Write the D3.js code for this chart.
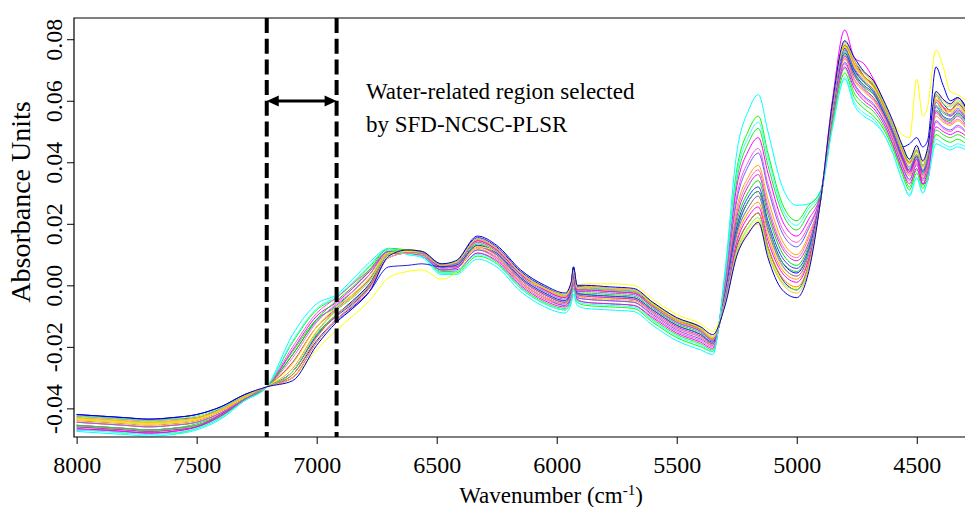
<!DOCTYPE html>
<html>
<head>
  <title>NIR spectra - water region</title>
  <meta charset="utf-8">
  <script src="https://cdn.jsdelivr.net/npm/d3@7/dist/d3.min.js"></script>
  <style type="text/css">
    body {
      margin: 0;
      background: #fff;
    }
    svg {
      display: block;
    }
    svg text {
      font-family: "Liberation Serif", "Times New Roman", serif;
    }
    .spec {
      fill: none;
      stroke-width: 1;
    }
  </style>
</head>
<body>
  <svg id="chart" width="965" height="507"></svg>
  <script type="text/javascript">

  // wavenumber grid (cm-1) the spectra were read at
  const wavenumbers = [8000,7900,7800,7700,7600,7500,7400,7300,7208,7100,7000,6917,6850,6780,6700,6620,6560,6480,6420,6330,
    6250,6150,6050,5965,5940,5930,5915,5880,5780,5680,5600,5500,5400,5350,5300,5250,5200,5160,5120,5060,
    5000,4950,4900,4850,4800,4760,4720,4680,4640,4600,4560,4530,4500,4475,4455,4420,4390,4360,4330,4295];

  // absorbance of each sample, in units of 0.001
  const spectra = [
    [-47.5,-48,-48.5,-49,-48.5,-47,-43.5,-37.5,-33,-16,-6,-3,2,7.5,12,10,9,3.5,3.5,8.5,6,-2,-7,-9,-6,-3,-6.5,-7.5,-8,-8.5,-13,-18,-21,-22.5,4,43,57,62,50,32,26,26.5,31,52,67,58.5,55,53,49.5,43,34,29,35,30,34,46,45,44,45,44],
    [-47,-47,-48,-48,-48,-46.5,-43,-37,-33,-18.5,-8,-4,0.5,6,12,10.5,9.5,4,4,9.5,7,-1,-6,-8,-5,-1.5,-5.5,-6.5,-7,-7.5,-12,-17,-20,-21.5,2,37.5,50.5,55,43,26.5,21,26,30.5,53,69,61,57.5,55,51,44.5,36,31,36.5,31.5,35.5,49,47.5,46.5,47.5,46],
    [-45.5,-46,-46.5,-47,-46.5,-45,-42,-37,-33,-21.5,-11,-7,-2,3.5,11.5,10.5,9.5,4.5,4.5,10.5,7.5,-0.5,-5.5,-7.5,-4.5,-1,-5,-5.5,-6,-6.5,-11,-16,-19,-21,1,34,46.5,51,39,23.5,18,23.5,30,54,70.5,62.5,59,56.5,52,45.5,37,32,37.5,32.5,36.5,50.5,49,48,49,47.5],
    [-47,-47,-47.5,-48,-47.5,-46,-42.5,-37,-33,-21,-10,-5.5,-1,4.5,11,10.5,9.5,5,5,10.5,8,0,-5,-7,-4,0,-4.5,-5.5,-6,-6.5,-10.5,-15.5,-18.5,-20.5,0.5,32,44,48,36.5,21,16,21.5,30,55,71,64,60,57.5,53,46,37.5,33,38,33,37,51.5,50,49,50,48.5],
    [-44.5,-45,-45.5,-46,-45.5,-44.5,-41.5,-36.5,-33,-20,-9,-4,0.5,5,11,10.5,10,5,5.5,11.5,8.5,0.5,-4.5,-6.5,-3.5,0.5,-4,-4.5,-5,-5.5,-10,-15,-18,-20,-0.5,29,40.5,44.5,33,18.5,14,19.5,29.5,55,72,65,61,58.5,54,47,38.5,34,39,34,38,53,51,50,51.5,49.5],
    [-45.5,-46,-46.5,-47,-46.5,-45.5,-42,-37,-33,-22.5,-11.5,-6.5,-2,3.5,11,11,10,5,5.5,11.5,9,1,-4,-6.5,-3.5,1,-4,-4.5,-5,-5.5,-9.5,-14.5,-17.5,-19.5,-1,27.5,39,43,31.5,17,12.5,18.5,29.5,55.5,72.5,65.5,61.5,59,54,47.5,39,34.5,39.5,34.5,38.5,53.5,51.5,50.5,52,50],
    [-44.5,-45,-45.5,-46,-45.5,-44.5,-41.5,-37,-33,-25,-13.5,-8,-3.5,2,10.5,10.5,10,5.5,6,12,9,1,-4,-6,-3,1.5,-3.5,-4,-4.5,-5,-9,-14,-17,-19.5,-2,25,35.5,39,28,14.5,10,16.5,29,56,73.5,66.5,63,60,55,48,40,35.5,40,35,39,55,53,52,53.5,51],
    [-45.5,-46,-46.5,-47,-46.5,-45.5,-42,-37,-33,-23.5,-12,-6,-2,3.5,10.5,10.5,10,5.5,6,12.5,9.5,1.5,-3.5,-6,-2.5,2,-3.5,-3.5,-4,-4.5,-9,-14,-17,-19.5,-2.5,23.5,34,37.5,26,13,9,15.5,29,56,74,67,63.5,60.5,55.5,48.5,40.5,36,40.5,35.5,39.5,56,53.5,52.5,54,51.5],
    [-46,-46.5,-47,-47.5,-47,-46,-42.5,-37.5,-33,-22.5,-11,-5,-0.5,5,12,11.5,11,6,6.5,13,10,2,-3,-5.5,-2,2.5,-3,-3,-3.5,-4,-8,-13,-16,-19,-3,20.5,30.5,34,23,10.5,6.5,13,28.5,57,75,68.5,64.5,62,56.5,49.5,41,37,41.5,36.5,40.5,57,54.5,53.5,55.5,53],
    [-46,-46.5,-47,-47.5,-47,-46,-42.5,-37,-33,-25,-13.5,-7.5,-3,2,10.5,10.5,10,6,6,12.5,10,2,-3,-5.5,-2,2.5,-3,-3.5,-4,-4.5,-8.5,-13.5,-16.5,-19,-3,22,32.5,36,24.5,12,8,14,29,56.5,74.5,68,64,61,56,49,41,36.5,41,36,40,56.5,54,53,55,52],
    [-42,-42.5,-43,-43.5,-43,-42,-39.5,-35.5,-33,-28,-16,-9.5,-5,0.5,10,11,10.5,6.5,7,15,12,4,-1,-3.5,0,5.5,-1,-1,-1.5,-2,-6.5,-11,-14.5,-17.5,-4,17.5,27.5,30.5,19.5,7.5,4,11,28,57.5,77,70,66,63,58,51,45,46,48,45,47,71,65,60,61,58],
    [-45.5,-46,-46.5,-47,-46.5,-45.5,-42,-37,-33,-28,-16,-9.5,-5.5,0,10,11,10.5,6,6.5,13.5,10.5,2.5,-2.5,-5,-1.5,3.5,-2.5,-2.5,-3,-3.5,-7.5,-12.5,-15.5,-18.5,-4,18,27.5,30.5,19.5,7.5,4.5,11,28,57.5,76,69.5,66,63,57,50,42,38,42,37,41,58.5,56,55,56.5,54],
    [-43.5,-44,-44.5,-45,-44.5,-43.5,-40.5,-36.5,-33,-28,-16.5,-10,-6,-0.5,10,11,10.5,6,6.5,13,10.5,2.5,-2.5,-5,-1.5,3,-2.5,-3,-3.5,-4,-8,-13,-16,-18.5,-3.5,19,29,32,21,9,5.5,12,28.5,57,75.5,69,65,62.5,56.5,50,41.5,37.5,42,37,41,58,55,54,56,53.5],
    [-43.5,-44,-44.5,-45,-44.5,-43.5,-40.5,-36,-33,-30,-21,-14.5,-10,-5,2.5,4.5,5,2,4,12.5,11,4,-1,-3,0.5,5,0,0.5,0.5,0,-4.5,-9.5,-12.5,-15,-6,10.5,18.5,21,11.5,1.5,-1,6,28,58,78,72,68,65,59,53,49,48,67,55,58,76.5,71,63,62,60],
    [-42.5,-43,-43.5,-44,-43.5,-43,-40,-36,-33,-29,-18,-11,-7,-2,6,6.5,7,6,7.5,15.5,12.5,4.5,-0.5,-3,0.5,6,-0.5,-0.5,-1,-1.5,-6,-11,-14,-17,-6,12.5,20.5,23.5,12.5,2,-1.5,7,28,58.5,78,73,68,65,59,52,44,40,44,39,43,62,59,57,59,56],
    [-44,-44.5,-45,-45.5,-45,-44,-41,-36.5,-33,-27,-15,-8,-4,1.5,10.5,11.5,11,7,7.5,14.5,11.5,3.5,-1.5,-4,-0.5,4.5,-1.5,-1.5,-2,-2.5,-6.5,-11.5,-14.5,-17.5,-5,15,24,27,16,5,2,9,28,58,77.5,71.5,67.5,64.5,58.5,51.5,43.5,39.5,43.5,38.5,42.5,60.5,57.5,56.5,58.5,55.5],
    [-43,-43.5,-44,-44.5,-44,-43,-40.5,-36.5,-33,-29,-17,-9.5,-5.5,0,10,11,10.5,7,7.5,14.5,11.5,3.5,-1.5,-4,-0.5,4.5,-1.5,-1.5,-2,-2.5,-6.5,-11.5,-14.5,-17.5,-6,12,20.5,23.5,12.5,2.5,-0.5,7,28,58.5,78,72,68,65,59,52,44,40,44,39,43,61.5,58,57,59.5,56],
    [-46.5,-47,-47.5,-48,-47.5,-46,-42,-37,-33,-30,-18.5,-11,-6.5,-1,9,10.5,10,6.5,7,14.5,11.5,3.5,-1.5,-4,-0.5,5,-1.5,-1.5,-2,-2.5,-7,-12,-15,-18,-5.5,14,22.5,25.5,14.5,4,1,8.5,28.5,61,83,74,72,67,60,52,42,37,41,33,34,60,58,55,57,54],
    [-42.5,-43,-43.5,-44,-43.5,-42.5,-40,-36,-33,-28,-15.5,-8,-4,1.5,10,11,10.5,7,7.5,15,12,4,-1,-3.5,0,5,-1,-1,-1.5,-2,-6,-11,-14,-17,-6,11,19,22,11,1,-1.5,6,28,59,78.5,73,69,65.5,59.5,52,44.5,40.5,44,39,43,62,59,58,60,56.5],
    [-43.5,-44,-44.5,-45,-44.5,-43.5,-40.5,-36.5,-33,-25.5,-13.5,-7,-3,2.5,10.5,11,10.5,6.5,7,14,11,3,-1,-3,0,5,-1,-0.5,-1,-1.5,-6,-11,-14,-17,-4.5,16,25.5,29,17.5,6,3,10,28,57.5,77.5,71,67,64,58,51,43,39,43,38,42,60,57,56,58,55],
    [-44.5,-45,-45.5,-46,-45.5,-44.5,-41.5,-37,-33,-30,-18.5,-11.5,-7.5,-2,9,10.5,10.5,6.5,7,14,11,3,-2,-4.5,-1,4,-2,-2,-2.5,-3,-7,-12,-15,-18,-5,16.5,25.5,29,18,6.5,3,10,28,58,76.5,70.5,66.5,63.5,57.5,50.5,42.5,38.5,42.5,37.5,41.5,59.5,56.5,55.5,57.5,54.5],
    [-47,-47.5,-48,-48.5,-48,-46.5,-43,-37.5,-33,-18,-7.5,-3.5,1,6.5,12,10,9.5,4,4.5,10,7,-1,-6,-8,-5,-1.5,-5.5,-6,-6.5,-7,-11.5,-16.5,-19.5,-21.5,2,36,48.5,53,41.5,25,19.5,25,30,51.5,67.5,59.5,56,54,49.5,43,34,29.5,35,30,34,47.5,46,45,46,45],
    [-43,-43.5,-44,-44.5,-44,-43,-40.5,-36,-33,-30,-18.5,-11,-6.5,-1,9,10.5,10,6.5,7.5,15,12,4,-1,-3.5,0,4.5,-1,-0.5,-1,-1.5,-5.5,-10.5,-13.5,-16.5,-6.5,10,17.5,20,10,0.5,-2.5,5.5,28,59.5,79,73,69,66,60,53,45,41,45,40,44,62.5,60,58.5,60.5,57],
    [-42,-42.5,-43,-43.5,-43,-42,-39.5,-35.5,-33,-31,-19.5,-12,-7.5,-2,9.5,11.5,11,7,8,16,13,5,0,-2.5,1,6,0,0,-0.5,-1,-5.5,-10.5,-13.5,-16,-7,9.5,17,20.5,9,-1.5,-4,4.5,28,60,79.5,74,69.5,66.5,60.5,53.5,45.5,41,45.5,40.5,44.5,63,60.5,59,61,57.5]
  ];

  const lineColors = ["#00ffff","#00ff00","#22e622","#ff00ff","#ff55dd","#6060ff","#ffa500","#ff66cc","#00dd00","#cc33cc",
    "#0000ff","#33cc33","#3333ff","#ffff00","#2222dd","#ff9900","#ff8c00","#ff00ff","#66ff66","#eeee00",
    "#8866ff","#33ffff","#ffb833","#0000cc"];

  const xTicks = [8000, 7500, 7000, 6500, 6000, 5500, 5000, 4500];
  const yTicks = [-0.04, -0.02, 0.00, 0.02, 0.04, 0.06, 0.08];

  // water-related region (cm-1) marked by the dashed lines
  const selectedRegion = [7208, 6917];
  const noteLines = ["Water-related region selected", "by SFD-NCSC-PLSR"];

  const plot = {left: 74, right: 965, top: 18, bottom: 437};
  const serif = '"Liberation Serif", "Times New Roman", serif';

  const svg = d3.select('#chart');

  const x = d3.scaleLinear().domain([8011, 4299]).range([plot.left, plot.right]);
  const y = d3.scaleLinear().domain([-0.0493, 0.0869]).range([plot.bottom, plot.top]);

  svg.append('defs').append('clipPath').attr('id', 'clip')
    .append('rect')
    .attr('x', plot.left).attr('y', plot.top)
    .attr('width', plot.right - plot.left).attr('height', plot.bottom - plot.top);

  const line = d3.line()
    .x((d, i) => x(wavenumbers[i]))
    .y((d) => y(d / 1000))
    .curve(d3.curveMonotoneX);

  svg.append('g')
    .attr('clip-path', 'url(#clip)')
    .selectAll('path')
    .data(spectra)
    .enter().append('path')
    .attr('class', 'spec')
    .attr('stroke', (d, i) => lineColors[i % lineColors.length])
    .attr('d', line);

  // box (right side runs off the picture)
  svg.append('path')
    .attr('d', `M${plot.right},${plot.top}H${plot.left}V${plot.bottom}H${plot.right}`)
    .attr('fill', 'none')
    .attr('stroke', '#000')
    .attr('stroke-width', 1.2);

  // axes
  const xAxis = svg.append('g')
    .attr('transform', `translate(0,${plot.bottom})`)
    .call(d3.axisBottom(x).tickValues(xTicks).tickSize(7).tickFormat(d3.format('d')));
  xAxis.select('.domain').remove();
  xAxis.selectAll('text')
    .attr('y', 36).attr('dy', 0)
    .attr('fill', '#000')
    .style('font-family', serif)
    .style('font-size', '24px');

  const yAxis = svg.append('g')
    .attr('transform', `translate(${plot.left},0)`)
    .call(d3.axisLeft(y).tickValues(yTicks).tickSize(7).tickFormat((d) => d.toFixed(2)));
  yAxis.select('.domain').remove();
  yAxis.selectAll('text')
    .attr('transform', 'rotate(-90)')
    .attr('x', 0).attr('y', -12).attr('dy', 0)
    .attr('text-anchor', 'middle')
    .attr('fill', '#000')
    .style('font-family', serif)
    .style('font-size', '24px');
  svg.selectAll('.tick line').attr('stroke', '#000');

  // titles
  const xTitle = svg.append('text')
    .attr('x', 551).attr('y', 503)
    .attr('text-anchor', 'middle')
    .style('font-size', '23px');
  xTitle.append('tspan').text('Wavenumber (cm');
  xTitle.append('tspan').attr('dy', -8).style('font-size', '15px').text('-1');
  xTitle.append('tspan').attr('dy', 8).text(')');

  svg.append('text')
    .attr('transform', 'translate(30,202) rotate(-90)')
    .attr('text-anchor', 'middle')
    .style('font-size', '28px')
    .text('Absorbance Units');

  // selected region
  svg.selectAll('.region')
    .data(selectedRegion)
    .enter().append('line')
    .attr('class', 'region')
    .attr('x1', (d) => x(d)).attr('x2', (d) => x(d))
    .attr('y1', plot.top).attr('y2', plot.bottom)
    .attr('stroke', '#000')
    .attr('stroke-width', 4)
    .attr('stroke-dasharray', '15,5.7');

  const arrowY = 101;
  const xa = x(selectedRegion[0]), xb = x(selectedRegion[1]);
  const head = 12, half = 5.5;
  svg.append('line')
    .attr('x1', xa + head - 1).attr('x2', xb - head + 1)
    .attr('y1', arrowY).attr('y2', arrowY)
    .attr('stroke', '#000').attr('stroke-width', 3);
  svg.append('path')
    .attr('d', `M${xa},${arrowY}L${xa + head},${arrowY - half}L${xa + head},${arrowY + half}Z` +
               `M${xb},${arrowY}L${xb - head},${arrowY - half}L${xb - head},${arrowY + half}Z`)
    .attr('fill', '#000');

  svg.selectAll('.note')
    .data(noteLines)
    .enter().append('text')
    .attr('class', 'note')
    .attr('x', 366)
    .attr('y', (d, i) => 99 + i * 33)
    .style('font-size', '23px')
    .text((d) => d);
  </script>
</body>
</html>
